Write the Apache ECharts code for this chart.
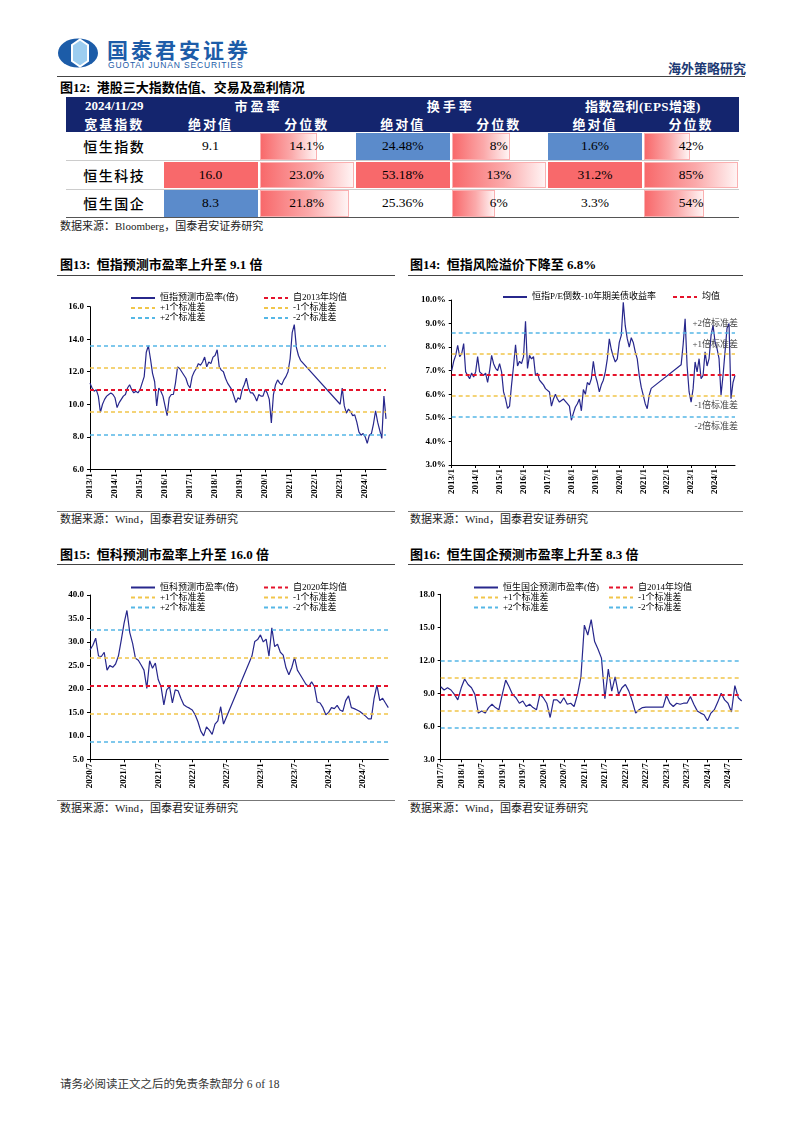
<!DOCTYPE html>
<html lang="zh-CN">
<head>
<meta charset="utf-8">
<title>港股三大指数估值、交易及盈利情况</title>
<script src="https://cdn.jsdelivr.net/npm/echarts@6/dist/echarts.min.js"></script>
<style>
  * { margin: 0; padding: 0; box-sizing: border-box; }
  body { background: #fff; width: 802px; height: 1133px; overflow: hidden; }
  #page { position: relative; width: 802px; height: 1133px; font-family: 'Liberation Serif', 'Noto Sans CJK SC', serif; color: #000; }
  .abs { position: absolute; white-space: nowrap; }
  .rule { position: absolute; height: 1px; background: #444; }
  .fig-title { position: absolute; font-size: 13px; font-weight: bold; line-height: 16px; white-space: nowrap; }
  .source { position: absolute; font-size: 11px; line-height: 14px; white-space: nowrap; color: #222; }
  .chart { position: absolute; }
  .cell { position: absolute; display: flex; align-items: center; justify-content: center; white-space: nowrap; }
</style>
</head>
<body>
<div id="page">
  <!-- 页眉 -->
  <svg class="abs" style="left:57px;top:38px" width="42" height="30" viewBox="0 0 42 30">
    <ellipse cx="21" cy="15" rx="20" ry="14.5" fill="#1C5CA8"/>
    <polygon points="23,1.5 31,7 31,23 23,28.5 15,23 15,7" fill="#9CCDF0" stroke="#fff" stroke-width="2"/>
  </svg>
  <div class="abs" style="left:107px;top:36px;font:bold 21px 'Noto Sans CJK SC';letter-spacing:3px;color:#1C5CA8;line-height:26px">国泰君安证券</div>
  <div class="abs" style="left:108px;top:60px;font:8.5px 'Liberation Sans';letter-spacing:0.85px;color:#1C5CA8;line-height:10px">GUOTAI JUNAN SECURITIES</div>
  <div class="abs" style="left:668px;top:60px;font:bold 13px 'Noto Sans CJK SC';color:#1D3A74;line-height:16px">海外策略研究</div>
  <div class="rule" style="left:57px;top:76px;width:688px"></div>

  <div class="fig-title" style="left:60px;top:80px">图12:&nbsp; 港股三大指数估值、交易及盈利情况</div>
  <div id="table"></div>
  <div class="source" style="left:60px;top:219px">数据来源：Bloomberg，国泰君安证券研究</div>

  <div class="fig-title" style="left:60px;top:257px">图13:&nbsp; 恒指预测市盈率上升至 9.1 倍</div>
  <div class="rule" style="left:57px;top:275px;width:338px"></div>
  <div id="c13" class="chart" style="left:57px;top:280px;width:340px;height:225px"></div>
  <div class="rule" style="left:57px;top:511px;width:338px;background:#777"></div>
  <div class="source" style="left:60px;top:512px">数据来源：Wind，国泰君安证券研究</div>

  <div class="fig-title" style="left:410px;top:257px">图14:&nbsp; 恒指风险溢价下降至 6.8%</div>
  <div class="rule" style="left:408px;top:275px;width:335px"></div>
  <div id="c14" class="chart" style="left:400px;top:280px;width:345px;height:225px"></div>
  <div class="rule" style="left:408px;top:511px;width:335px;background:#777"></div>
  <div class="source" style="left:410px;top:512px">数据来源：Wind，国泰君安证券研究</div>

  <div class="fig-title" style="left:60px;top:547px">图15:&nbsp; 恒科预测市盈率上升至 16.0 倍</div>
  <div class="rule" style="left:57px;top:564px;width:338px"></div>
  <div id="c15" class="chart" style="left:57px;top:570px;width:340px;height:225px"></div>
  <div class="rule" style="left:57px;top:800px;width:338px;background:#777"></div>
  <div class="source" style="left:60px;top:801px">数据来源：Wind，国泰君安证券研究</div>

  <div class="fig-title" style="left:410px;top:547px">图16:&nbsp; 恒生国企预测市盈率上升至 8.3 倍</div>
  <div class="rule" style="left:408px;top:564px;width:335px"></div>
  <div id="c16" class="chart" style="left:400px;top:570px;width:345px;height:225px"></div>
  <div class="rule" style="left:408px;top:800px;width:335px;background:#777"></div>
  <div class="source" style="left:410px;top:801px">数据来源：Wind，国泰君安证券研究</div>

  <div class="source" style="left:60px;top:1077px;font-size:11.5px;color:#333">请务必阅读正文之后的免责条款部分 6 of 18</div>
</div>

<script>
// ---------------- 表格数据 (图12) ----------------
const tableDate = '2024/11/29';
const tableIndices = ['恒生指数', '恒生科技', '恒生国企'];
const tableGroups = ['市盈率', '换手率', '指数盈利(EPS增速)'];
const peValue = [9.1, 16.0, 8.3];
const pePct = [14.1, 23.0, 21.8];
const turnoverValue = [24.48, 53.18, 25.36];
const turnoverPct = [8, 13, 6];
const epsValue = [1.6, 31.2, 3.3];
const epsPct = [42, 85, 54];

// ---------------- 图13 恒指预测市盈率(倍), 2013/1 - 2024/11 月度 ----------------
const ticks13 = ['2013/1', '2014/1', '2015/1', '2016/1', '2017/1', '2018/1', '2019/1', '2020/1', '2021/1', '2022/1', '2023/1', '2024/1'];
const hsiPe = [
  11.3, 11.0, 10.8, 10.9, 10.5, 9.5, 10.0, 10.3, 10.5, 10.6, 10.7, 10.6,
  10.4, 9.8, 10.1, 10.3, 10.5, 10.6, 11.0, 11.2, 10.9, 10.7, 10.8, 10.7,
  10.9, 11.3, 11.7, 13.2, 13.6, 12.8, 11.9, 11.4, 9.9, 11.0, 10.8, 10.5,
  9.9, 9.3, 10.4, 10.6, 10.6, 11.3, 12.3, 12.2, 12.0, 11.8, 11.6, 11.2,
  11.0, 11.7, 12.0, 12.2, 12.5, 12.4, 12.6, 12.9, 12.3, 12.6, 12.5, 12.9,
  13.0, 13.35, 12.3, 12.1, 12.0, 11.6, 11.3, 11.1, 10.9, 10.5, 10.1, 10.4,
  10.3, 10.9, 11.2, 11.6, 11.0, 10.7, 10.7, 10.5, 10.2, 10.6, 10.5, 10.5,
  10.9, 10.7, 10.3, 8.85, 10.6, 11.2, 11.5, 11.3, 11.2, 11.5, 11.7, 12.0,
  12.8, 14.4, 14.9, 13.5, 13.0, 12.7, null, null, null, null, null, null,
  null, null, null, null, null, null, null, null, null, null, null, null,
  10.0, 11.0, 9.9, 9.45, 9.7, 9.55, 9.3, 9.35, 8.9, 8.3, 8.1, 8.2,
  8.0, 7.6, 8.1, 8.2, 8.8, 9.6, 8.9, 8.4, 7.9, 10.5, 9.1
];
// 均值, +1σ, -1σ, +2σ, -2σ
const hsiPeBands = [10.88, 12.25, 9.51, 13.62, 8.14];

// ---------------- 图14 恒指P/E倒数-10年期美债收益率(%), 2013/1 - 2024/11 ----------------
const ticks14 = ticks13;
const hsiErp = [
  7.0, 7.4, 7.65, 8.08, 7.6, 7.72, 8.15, 6.95, 6.8, 6.66, 6.9, 6.73,
  6.95, 7.6, 6.95, 7.0, 6.8, 6.9, 6.5, 7.0, 7.65, 7.3, 7.1, 7.0,
  7.3, 6.95, 6.1, 5.8, 5.4, 5.5, 6.4, 7.2, 8.1, 7.2, 7.4, 7.3,
  7.6, 9.1, 7.1, 7.65, 7.5, 7.6, 6.8, 6.9, 6.6, 6.5, 6.4, 6.24,
  6.3, 6.1, 5.5, 5.8, 6.0, 5.8, 5.67, 5.7, 5.8, 5.7, 5.6, 5.5,
  4.9, 5.2, 5.46, 5.6, 5.8, 5.3, 6.2, 6.0, 6.5, 6.4, 6.66, 7.4,
  6.8, 6.5, 6.1, 6.4, 6.6, 6.95, 7.5, 8.35, 7.9, 7.6, 7.37, 7.5,
  8.2, 8.5, 9.9, 8.9, 8.36, 8.0, 8.4, 8.2, 7.8, 7.5, 6.8, 6.3,
  5.96, 5.6, 5.39, 5.96, 6.25, null, null, null, null, null, null, null,
  null, null, null, null, null, null, null, 7.25, 8.1, 9.2, 7.2, 6.1,
  5.67, 6.24, 7.37, 6.95, 7.51, 6.66, 6.8, 7.8, 7.2, 7.51, 8.5, 8.93,
  8.22, 7.94, 7.51, 5.96, 6.8, 7.8, 8.8, 9.0, 5.81, 6.5, 6.8
];
const hsiErpBands = [6.82, 7.71, 5.93, 8.60, 5.04];
const erpBandLabels = ['', '+1倍标准差', '-1倍标准差', '+2倍标准差', '-2倍标准差'];

// ---------------- 图15 恒科预测市盈率(倍), 2020/7 - 2024/11 半月 ----------------
const ticks15 = ['2020/7', '2021/1', '2021/7', '2022/1', '2022/7', '2023/1', '2023/7', '2024/1', '2024/7'];
const hstechPe = [
  28.3, 29.3, 30.8, 27.0, 26.9, 27.8, 24.0, 25.0, 24.6, 25.3, 27.0, 30.4,
  34.0, 36.7, 32.0, 29.7, 26.5, 26.1, 25.1, 24.0, 20.1, 26.0, 24.4, 25.5,
  22.0, 20.5, 16.6, 19.8, 20.5, 17.0, 19.8, 19.6, 18.0, 16.6, 16.2, 15.9,
  15.5, 14.5, 13.0, 11.0, 10.0, 11.9, 11.2, 10.3, 12.5, 13.2, 16.2, 12.5,
  null, null, null, null, null, null, null, null, null, 27.0, 30.1, 30.5,
  31.5, 30.0, 30.6, 27.0, 33.0, 29.0, 29.5, 27.8, 27.2, 24.5, 23.0, 24.5,
  26.7, 24.0, 23.0, 22.0, 21.0, 20.5, 21.5, 20.5, 17.2, 17.0, 16.0, 14.5,
  15.0, 16.0, 15.8, 16.5, 15.5, 15.2, 17.5, 18.5, 16.0, 15.8, 15.5, 15.2,
  14.7, 14.2, 13.6, 13.6, 18.0, 20.8, 17.5, 18.0, 17.0, 16.0
];
const hstechPeBands = [20.7, 26.65, 14.75, 32.6, 8.8];

// ---------------- 图16 恒生国企预测市盈率(倍), 2017/7 - 2024/11 月度 ----------------
const ticks16 = ['2017/7', '2018/1', '2018/7', '2019/1', '2019/7', '2020/1', '2020/7', '2021/1', '2021/7', '2022/1', '2022/7', '2023/1', '2023/7', '2024/1', '2024/7'];
const hsceiPe = [
  9.6, 9.3, 9.5, 9.3, 8.9, 8.4, 9.5, 10.3, 9.8, 9.5, 8.9, 7.2,
  7.4, 7.2, 7.7, 8.0, 7.7, 7.5, 8.9, 10.2, 9.6, 8.9, 8.6, 8.1,
  8.3, 7.8, 8.0, 7.7, 7.5, 8.9, 8.6, 8.1, 6.8, 8.4, 8.4, 8.1,
  8.6, 8.0, 8.1, 7.8, 8.9, 10.5, 15.2, 14.3, 15.7, 13.7, 13.0, 12.2,
  8.5, 11.2, 9.2, 10.5, 8.9, 9.5, 9.8, 9.2, 8.3, 7.2, 7.5, 7.7,
  7.75, null, null, null, null, 7.75, 8.8, 8.1, 7.8, 8.1, 8.0, 8.1,
  8.1, 8.7, 8.0, 7.4, 7.2, 7.05, 6.5, 7.2, 7.5, 8.2, 9.0, 8.4,
  8.1, 7.3, 9.7, 8.6, 8.3
];
const hsceiPeBands = [8.9, 10.43, 7.37, 11.96, 5.84];

const bandNames = ['均值', '+1个标准差', '-1个标准差', '+2个标准差', '-2个标准差'];
const bandColors = ['#E5132B', '#F1C54A', '#F1C54A', '#55B7E6', '#55B7E6'];
const LINE_COLOR = '#27278C';
const SERIF = "'Liberation Serif', 'Noto Sans CJK SC', serif";

// 生成月份 / 半月类目
function monthCats(y, m, count, half) {
  const out = [];
  for (let i = 0; i < count; i++) {
    const yy = y + Math.floor((m - 1 + i) / 12);
    const mm = ((m - 1 + i) % 12) + 1;
    out.push(yy + '/' + mm);
    if (half) out.push(yy + '/' + mm + '/16');
  }
  return out;
}

// ---------------- 表格 ----------------
function buildTable() {
  const host = document.getElementById('table');
  const colX = [66, 162.5, 258.6, 354.7, 450.8, 546.9, 643, 739];
  const top = 97, headH = 35, rowH = 28.5;
  const RED = '#F8696B', BLUE = '#5B8BCB', NAVY = '#14256E';
  let html = '';
  const box = (l, t, w, h, style, text) =>
    `<div class="cell" style="left:${l}px;top:${t}px;width:${w}px;height:${h}px;${style}">${text}</div>`;

  html += box(colX[0], top, colX[7] - colX[0], headH, `background:${NAVY}`, '');
  const hs = 'color:#fff;font-weight:bold;font-size:13px;';
  html += box(colX[0], top, colX[1] - colX[0], 17.5, hs, tableDate);
  tableGroups.forEach((g, k) => {
    html += box(colX[1 + 2 * k], top, colX[3 + 2 * k] - colX[1 + 2 * k], 17.5, hs + (k < 2 ? 'letter-spacing:3px' : 'letter-spacing:0.5px'), g);
  });
  html += box(colX[0], top + 17.5, colX[1] - colX[0], 17.5, hs + 'letter-spacing:2px', '宽基指数');
  for (let c = 1; c < 7; c++) {
    html += box(colX[c], top + 17.5, colX[c + 1] - colX[c], 17.5, hs + 'letter-spacing:2px', c % 2 ? '绝对值' : '分位数');
  }

  const cols = [
    { v: peValue, fmt: x => x.toFixed(1), kind: 'scale' },
    { v: pePct, fmt: x => x.toFixed(1) + '%', kind: 'bar' },
    { v: turnoverValue, fmt: x => x.toFixed(2) + '%', kind: 'scale' },
    { v: turnoverPct, fmt: x => x + '%', kind: 'bar' },
    { v: epsValue, fmt: x => x.toFixed(1) + '%', kind: 'scale' },
    { v: epsPct, fmt: x => x + '%', kind: 'bar' }
  ];
  tableIndices.forEach((name, r) => {
    const y = top + headH + r * rowH;
    html += box(colX[0], y, colX[1] - colX[0], rowH, "font:14px 'Noto Sans CJK SC';letter-spacing:1.5px;font-weight:500", name);
    cols.forEach((col, k) => {
      const l = colX[k + 1], w = colX[k + 2] - colX[k + 1];
      const v = col.v[r];
      const mx = Math.max(...col.v), mn = Math.min(...col.v);
      if (col.kind === 'scale') {
        const bg = v === mx ? RED : v === mn ? BLUE : '#fff';
        html += box(l + 1, y + 1, w - 2, rowH - 2, `background:${bg}`, '');
      } else {
        const bw = (v / mx) * (w - 2);
        html += box(l + 1, y + 1, bw, rowH - 2,
          'background:linear-gradient(90deg,#F8696B 0%,#FBA9AA 55%,#FFF4F4 100%);border:1px solid #FAB0B1', '');
      }
      html += box(l, y, w, rowH, 'font-size:13.5px', col.fmt(v));
    });
    html += `<div class="rule" style="left:${colX[0]}px;top:${y + rowH - 0.5}px;width:${colX[7] - colX[0]}px;background:${r === 2 ? '#555' : '#ccc'}"></div>`;
  });
  host.innerHTML = html;
}

// ---------------- 通用轴 ----------------
function xAxisOf(cats, ticks) {
  const show = (i, v) => ticks.indexOf(v) >= 0;
  return {
    type: 'category', data: cats, boundaryGap: false,
    axisLine: { lineStyle: { color: '#000', width: 1 } },
    axisTick: { interval: show, length: 3, lineStyle: { color: '#000' } },
    axisLabel: { interval: show, rotate: 90, margin: 4, fontFamily: SERIF, fontSize: 9, fontWeight: 'bold', color: '#000' }
  };
}
function yAxisOf(min, max, interval, fmt) {
  return {
    type: 'value', min: min, max: max, interval: interval,
    axisLine: { show: true, lineStyle: { color: '#000', width: 1 } },
    axisTick: { show: true, length: 3, lineStyle: { color: '#000' } },
    splitLine: { show: false },
    axisLabel: { margin: 6, fontFamily: SERIF, fontSize: 9, fontWeight: 'bold', color: '#000', formatter: fmt }
  };
}
const legendText = { fontFamily: SERIF, fontSize: 9, color: '#000', lineHeight: 10 };
// 图例只画线，不画圆点
const legendBase = { itemWidth: 24, itemHeight: 8, selectedMode: false, textStyle: legendText, itemStyle: { opacity: 0 } };

// 带均值/标准差带的市盈率图
function bandChart(id, cfg) {
  const chart = echarts.init(document.getElementById(id));
  const names = bandNames.map((n, k) => (k === 0 ? cfg.meanName : n));
  const series = [{
    name: cfg.name, type: 'line', data: cfg.data, symbol: 'none', connectNulls: true,
    lineStyle: { color: LINE_COLOR, width: 1.2 }, itemStyle: { color: LINE_COLOR }
  }];
  cfg.bands.forEach((b, k) => {
    const ls = { color: bandColors[k], width: k === 0 ? 1.8 : 1.5, type: [4, 3] };
    series.push({
      name: names[k], type: 'line', data: [], symbol: 'none',
      lineStyle: ls, itemStyle: { color: bandColors[k] },
      markLine: { symbol: 'none', silent: true, label: { show: false }, lineStyle: ls, data: [{ yAxis: b }] }
    });
  });
  const leg = (left, data) => Object.assign({}, legendBase, {
    orient: 'vertical', left: left, top: cfg.legTop, itemGap: 0, data: data
  });
  chart.setOption({
    animation: false,
    grid: cfg.grid,
    legend: [leg(cfg.legLeft[0], [cfg.name, names[1], names[3]]), leg(cfg.legLeft[1], [names[0], names[2], names[4]])],
    xAxis: xAxisOf(cfg.cats, cfg.ticks),
    yAxis: yAxisOf(cfg.y[0], cfg.y[1], cfg.y[2], v => v.toFixed(1)),
    series: series
  });
}

buildTable();

bandChart('c13', {
  name: '恒指预测市盈率(倍)', meanName: '自2013年均值', data: hsiPe, bands: hsiPeBands,
  cats: monthCats(2013, 1, 143, false), ticks: ticks13, y: [6, 16, 2],
  grid: { left: 33, top: 26.7, width: 296, height: 162.6 }, legTop: 8, legLeft: [68, 201]
});

bandChart('c15', {
  name: '恒科预测市盈率(倍)', meanName: '自2020年均值', data: hstechPe, bands: hstechPeBands,
  cats: monthCats(2020, 7, 53, true), ticks: ticks15, y: [5, 40, 5],
  grid: { left: 33, top: 25, width: 298.3, height: 164.3 }, legTop: 7.5, legLeft: [68, 201]
});

bandChart('c16', {
  name: '恒生国企预测市盈率(倍)', meanName: '自2014年均值', data: hsceiPe, bands: hsceiPeBands,
  cats: monthCats(2017, 7, 89, false), ticks: ticks16, y: [3, 18, 3],
  grid: { left: 40.7, top: 24.3, width: 301, height: 165 }, legTop: 7.5, legLeft: [68, 203]
});

// 图14 风险溢价
(function () {
  const chart = echarts.init(document.getElementById('c14'));
  const marks = hsiErpBands.map((b, k) => ({
    yAxis: b,
    lineStyle: { color: bandColors[k], width: k === 0 ? 1.8 : 1.5, type: [4, 3] },
    label: k === 0 ? { show: false } : {
      show: true, formatter: erpBandLabels[k],
      position: (k === 1 || k === 3) ? 'insideEndTop' : 'insideEndBottom',
      fontFamily: SERIF, fontSize: 9, color: '#444', distance: [-3, 5]
    }
  }));
  chart.setOption({
    animation: false,
    grid: { left: 51.7, top: 20, width: 283.3, height: 165 },
    legend: [
      Object.assign({}, legendBase, { left: 97, top: 7, data: ['恒指P/E倒数-10年期美债收益率'] }),
      Object.assign({}, legendBase, { left: 267, top: 7, data: ['均值'] })
    ],
    xAxis: xAxisOf(monthCats(2013, 1, 143, false), ticks14),
    yAxis: yAxisOf(3, 10, 1, v => v.toFixed(1) + '%'),
    series: [
      { name: '恒指P/E倒数-10年期美债收益率', type: 'line', data: hsiErp, symbol: 'none', connectNulls: true,
        lineStyle: { color: LINE_COLOR, width: 1.2 }, itemStyle: { color: LINE_COLOR } },
      { name: '均值', type: 'line', data: [], symbol: 'none',
        lineStyle: { color: bandColors[0], width: 1.8, type: [4, 3] }, itemStyle: { color: bandColors[0] },
        markLine: { symbol: 'none', silent: true, data: marks } }
    ]
  });
})();
</script>
</body>
</html>
